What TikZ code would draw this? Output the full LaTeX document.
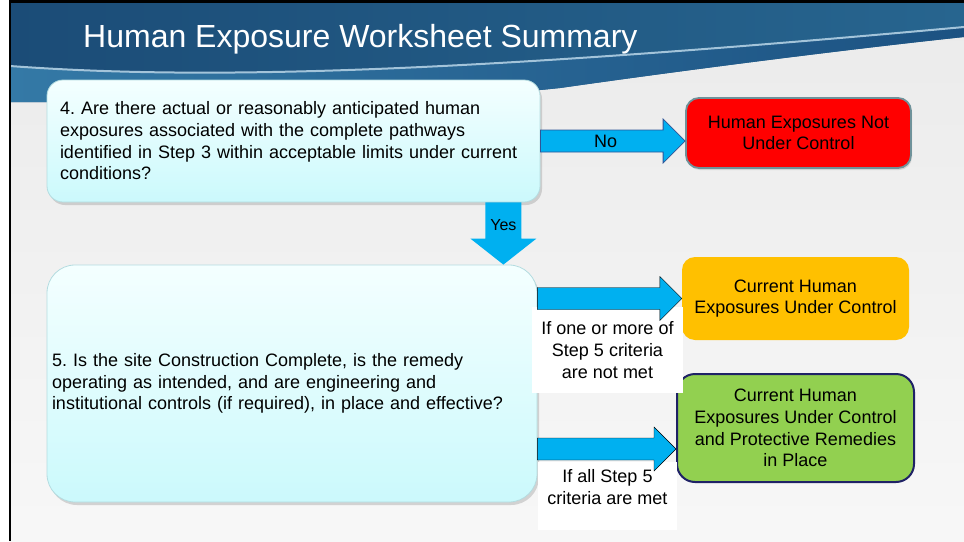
\documentclass[tikz,border=0pt]{standalone}
\usepackage{fontspec}
\setmainfont{Liberation Sans}
\frenchspacing
\usetikzlibrary{calc,shadows}
\definecolor{hdrleft}{HTML}{1B4C77}
\definecolor{hdrmid}{HTML}{4C9EC5}
\definecolor{hdrright}{HTML}{27658F}
\definecolor{stripleft}{HTML}{3479A6}
\definecolor{stripright}{HTML}{1C5282}
\definecolor{swoosh}{HTML}{A3C4DA}
\definecolor{qtop}{HTML}{F4FFFF}
\definecolor{qbottom}{HTML}{CBF9FC}
\definecolor{qborder}{HTML}{B4DCE0}
\definecolor{arrowblue}{HTML}{00B0F0}
\definecolor{arrowline}{HTML}{2F5597}
\definecolor{notred}{HTML}{FF0000}
\definecolor{notline}{HTML}{6F929A}
\definecolor{ctrlorange}{HTML}{FFC000}
\definecolor{protgreen}{HTML}{92D050}
\definecolor{protline}{HTML}{1F2266}
\tikzset{question/.style = {rounded corners=16pt, draw=qborder, line width=0.8pt,
           top color=qtop, bottom color=qbottom, align=left, inner ysep=0pt,
           drop shadow={shadow xshift=2pt, shadow yshift=-3pt, opacity=0.3},
           font=\fontsize{18}{21.7}\selectfont},
         outcome/.style = {rounded corners=13pt, align=center, inner sep=0pt,
           font=\fontsize{18}{21.7}\selectfont},
         lbl/.style = {fill=white, align=center, inner sep=0pt,
           font=\fontsize{18}{21.7}\selectfont},
         fatarrow/.style = {fill=arrowblue},
         txt/.style = {font=\fontsize{18}{21.7}\selectfont}}
\newcommand{\blockarrow}[3][]{%
  \draw[fatarrow,#1] ($(#2)+(0,-11)$) -- ($(#3)+(-22,-11)$) -- ($(#3)+(-22,-22)$) -- (#3)
    -- ($(#3)+(-22,22)$) -- ($(#3)+(-22,11)$) -- ($(#2)+(0,11)$) -- cycle;}

\begin{document}
\begin{tikzpicture}[x=1pt, y=-1pt]
\useasboundingbox (0,0) rectangle (964,541);
\shade[top color=black!8, bottom color=black!3] (10,2) rectangle (964,541);
\shade[left color=hdrleft, middle color=hdrmid, right color=hdrright]
  (10,2) -- (964,2) -- (964,37) .. controls (860,48) and (700,68) .. (560,88)
  .. controls (400,105) and (200,103) .. (10,102) -- cycle;
\shade[left color=stripleft, right color=stripright]
  (10,66) .. controls (200,80) and (450,74) .. (964,27) -- (964,37)
  .. controls (860,48) and (700,68) .. (560,88)
  .. controls (400,105) and (200,103) .. (10,102) -- cycle;
\draw[swoosh, line width=2pt] (10,66) .. controls (200,80) and (450,74) .. (964,27);
\draw[line width=2.5pt] (10,541) -- (10,1.5) -- (964,1.5);
\node (title) [anchor=base west, white, font=\fontsize{32}{38}\selectfont, inner sep=0pt]
  at (83,47) {Human Exposure Worksheet Summary};

\node (q4) [question, inner xsep=13pt, text width=467pt, minimum height=122pt] at (293.5,141)
  {4. Are there actual or reasonably anticipated human\\
   exposures associated with the complete pathways\\
   identified in Step 3 within acceptable limits under current\\
   conditions?};
\node (q5) [question, rounded corners=28pt, inner xsep=5pt, text width=480pt, minimum height=237pt] at (292,383.5)
  {5. Is the site Construction Complete, is the remedy\\
   operating as intended, and are engineering and\\
   institutional controls (if required), in place and effective?};

\node (nc) [outcome, fill=notred, draw=notline, line width=1.8pt, minimum width=225pt, minimum height=70pt,
  drop shadow={shadow xshift=1pt, shadow yshift=-2pt, opacity=0.25}] at (798.5,133)
  {Human Exposures Not\\Under Control};
\node (cur) [outcome, fill=ctrlorange, minimum width=227pt, minimum height=83pt] at (795.5,298.5)
  {Current Human\\Exposures Under Control};
\node (prot) [outcome, rounded corners=18pt, fill=protgreen, draw=protline, line width=2pt,
  minimum width=237pt, minimum height=108pt] at (795.5,428)
  {Current Human\\Exposures Under Control\\and Protective Remedies\\in Place};

\node (lb1) [lbl, minimum width=151pt, minimum height=86pt] at (607.5,350)
  {If one or more of\\Step 5 criteria\\are not met};
\node (lb2) [lbl, minimum width=139pt, minimum height=68pt] at (607.5,496) {};
\node (lb2t) [txt, align=center, inner sep=0pt] at (607.5,487) {If all Step 5\\criteria are met};

\coordinate (t1) at (nc.west |- q4.east);
\coordinate (s2) at (q5.east |- cur.west);
\coordinate (t3) at ($(prot.west)+(0,21)$);
\coordinate (s3) at (q5.east |- t3);
\blockarrow[draw=arrowline, line width=0.8pt]{q4.east}{t1}
\blockarrow{s2}{cur.west}
\blockarrow{s3}{t3}
\node (no) [txt] at ($(q4.east)!0.45!(t1)$) {No};

\coordinate (ys) at ($(q4.south east)+(-37,0)$);
\coordinate (yt) at (q5.north -| ys);
\fill[arrowblue] ($(ys)+(-18,0)$) -- ($(yt)+(-18,-26)$) -- ($(yt)+(-33,-26)$) -- (yt)
  -- ($(yt)+(33,-26)$) -- ($(yt)+(18,-26)$) -- ($(ys)+(18,0)$) -- cycle;
\node (yes) [txt, font=\fontsize{16}{19}\selectfont] at ($(ys)!0.37!(yt)$) {Yes};
\end{tikzpicture}
\end{document}
